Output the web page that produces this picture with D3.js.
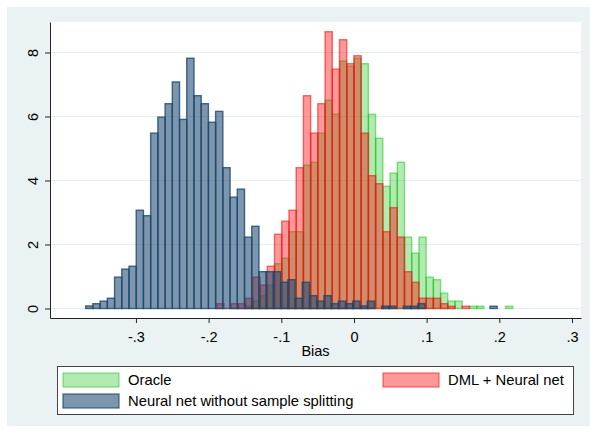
<!DOCTYPE html>
<html>
<head>
<meta charset="utf-8">
<script src="https://cdn.jsdelivr.net/npm/d3@7"></script>
<style>
body { margin: 0; background: #fff; }
text { font-family: "Liberation Sans", Arial, sans-serif; fill: #000; }
</style>
</head>
<body>
<div id="chart"></div>
<script>
// histogram bins (bias units)
var binWidth = 0.009935;
var nnStart = -0.3692;    // neural net without sample splitting
var dmlStart = -0.1888;   // DML + neural net and oracle use same bin edges

var nnDensity = [0.08, 0.15, 0.23, 0.32, 0.98, 1.23, 1.32, 3.07, 2.90, 5.48,
  5.98, 6.40, 7.08, 5.91, 7.82, 6.65, 6.40, 5.82, 6.16, 4.40,
  3.48, 3.73, 2.23, 2.57, 1.15, 1.15, 1.15, 0.82, 0.90, 0.32,
  0.82, 0.40, 0.23, 0.40, 0.15, 0.23, 0.15, 0.23, 0.08, 0.23,
  0, 0.07, 0.07, 0, 0.07, 0.07, 0.15, 0, 0, 0,
  0, 0, 0, 0, 0, 0, 0.07];

var dmlDensity = [0.15, 0, 0.15, 0.15, 0.32, 0.98, 0.73, 1.32, 2.32, 2.73,
  3.07, 4.40, 6.65, 5.48, 6.40, 8.65, 7.48, 8.40, 7.65, 7.90,
  5.48, 4.15, 3.90, 2.40, 3.15, 2.23, 1.15, 0.82, 0.32, 0.32,
  0.32, 0.15, 0.07, 0, 0.07];

var oracleDensity = [0, 0, 0, 0, 0.07, 0.23, 0.40, 0.73, 1.40, 1.57,
  2.40, 2.40, 4.48, 4.57, 5.48, 6.51, 6.07, 7.73, 7.57, 7.82,
  7.65, 6.07, 5.32, 3.82, 4.23, 4.57, 2.23, 1.73, 2.23, 0.98,
  0.90, 0.48, 0.23, 0.23, 0, 0.07, 0.07, 0, 0, 0,
  0.07];

var xTicks = [-0.3, -0.2, -0.1, 0, 0.1, 0.2, 0.3];
var xTickLabels = ["-.3", "-.2", "-.1", "0", ".1", ".2", ".3"];
var yTicks = [0, 2, 4, 6, 8];
var legendLabels = ["Oracle", "DML + Neural net", "Neural net without sample splitting"];

var W = 590, H = 432;
var plot = {left: 50, right: 581, top: 22, bottom: 318};

var colors = {
  oracle: {fill: "rgba(0,185,0,0.3)", stroke: "rgba(0,190,0,0.45)"},
  dml: {fill: "rgba(255,0,0,0.4)", stroke: "rgba(240,20,20,0.6)"},
  nn: {fill: "rgba(26,71,111,0.57)", stroke: "rgba(26,71,111,0.8)"}
};

var svg = d3.select("#chart").append("svg")
    .attr("width", W)
    .attr("height", H);

// outer graph region + plot region
svg.append("rect").attr("x", 7).attr("y", 7).attr("width", W - 7).attr("height", 419)
    .attr("fill", "#eaf2f3");
svg.append("rect")
    .attr("x", plot.left).attr("y", plot.top)
    .attr("width", plot.right - plot.left).attr("height", plot.bottom - plot.top)
    .attr("fill", "#fff");

var x = d3.scaleLinear().domain([-0.4183, 0.3124]).range([plot.left, plot.right]);
var y = d3.scaleLinear().domain([-0.297, 8.953]).range([plot.bottom, plot.top]);

// gridlines
svg.append("g").selectAll("line")
    .data(yTicks)
  .enter().append("line")
    .attr("x1", plot.left).attr("x2", plot.right)
    .attr("y1", function(d) { return y(d); })
    .attr("y2", function(d) { return y(d); })
    .attr("stroke", "#e4edf0")
    .attr("stroke-width", 1);

function drawHist(values, start, col) {
  var bins = values.map(function(v, i) {
    return {x0: start + i * binWidth, x1: start + (i + 1) * binWidth, v: v};
  }).filter(function(d) { return d.v > 0; });
  svg.append("g").selectAll("rect")
      .data(bins)
    .enter().append("rect")
      .attr("x", function(d) { return x(d.x0); })
      .attr("width", function(d) { return x(d.x1) - x(d.x0); })
      .attr("y", function(d) { return y(d.v); })
      .attr("height", function(d) { return y(0) - y(d.v); })
      .attr("fill", col.fill)
      .attr("stroke", col.stroke)
      .attr("stroke-width", 1.4);
}

drawHist(oracleDensity, dmlStart, colors.oracle);
drawHist(dmlDensity, dmlStart, colors.dml);
drawHist(nnDensity, nnStart, colors.nn);

// x axis
var xAxis = svg.append("g")
    .attr("transform", "translate(0," + plot.bottom + ")")
    .call(d3.axisBottom(x)
      .tickValues(xTicks)
      .tickFormat(function(d, i) { return xTickLabels[i]; })
      .tickSize(5)
      .tickPadding(9)
      .tickSizeOuter(0));
xAxis.selectAll("text").style("font-size", "14.5px").attr("fill", "#000");
xAxis.selectAll("line, path").attr("stroke", "#222");

// y axis
var yAxis = svg.append("g")
    .attr("transform", "translate(" + plot.left + ",0)")
    .call(d3.axisLeft(y)
      .tickValues(yTicks)
      .tickSize(5)
      .tickSizeOuter(0));
yAxis.selectAll("text")
    .attr("x", 0)
    .attr("y", -12)
    .attr("dy", null)
    .attr("transform", "rotate(-90)")
    .style("text-anchor", "middle")
    .style("font-size", "14.5px")
    .attr("fill", "#000");
yAxis.selectAll("line, path").attr("stroke", "#222");

// axis title
svg.append("text")
    .attr("x", (plot.left + plot.right) / 2)
    .attr("y", 356)
    .attr("text-anchor", "middle")
    .style("font-size", "14.5px")
    .text("Bias");

// legend
var legend = svg.append("g");
legend.append("rect")
    .attr("x", 57.5).attr("y", 366.5)
    .attr("width", 516).attr("height", 48)
    .attr("fill", "#fff")
    .attr("stroke", "#444");

var legendItems = [
  {label: legendLabels[0], col: colors.oracle, sx: 63, row: 0},
  {label: legendLabels[1], col: colors.dml, sx: 383, row: 0},
  {label: legendLabels[2], col: colors.nn, sx: 63, row: 1}
];
legendItems.forEach(function(d) {
  var top = 373 + d.row * 21;
  legend.append("rect")
      .attr("x", d.sx).attr("y", top)
      .attr("width", 56).attr("height", 14)
      .attr("fill", d.col.fill)
      .attr("stroke", d.col.stroke)
      .attr("stroke-width", 1.2);
  legend.append("text")
      .attr("x", d.sx + 65)
      .attr("y", top + 12)
      .style("font-size", "14.8px")
      .text(d.label);
});
</script>
</body>
</html>
